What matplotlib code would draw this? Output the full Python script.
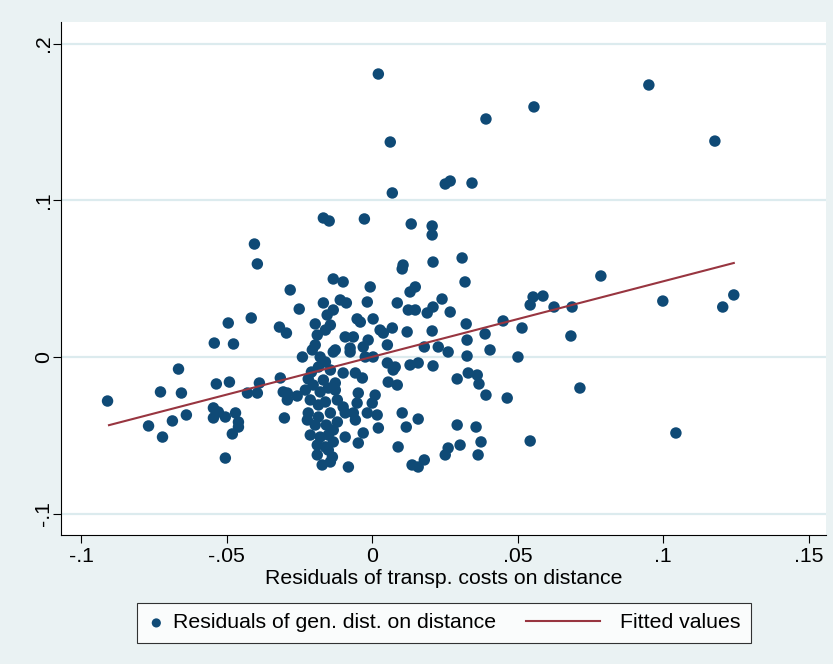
import matplotlib
matplotlib.use("Agg")
import matplotlib.pyplot as plt
from matplotlib.legend_handler import HandlerLine2D
from matplotlib.lines import Line2D
import numpy as np

# Residuals of transp. costs on distance (x) vs residuals of gen. dist. on distance (y)
x_res = [0.0021, 0.0951, 0.0556, 0.0391, 0.1178, 0.0062, 0.0069, 0.0343, 0.0251, 0.0268,
         -0.0168, -0.0148, -0.0027, 0.0134, 0.0206, 0.0206, -0.0405, -0.0395, -0.0282,
         -0.0910, -0.0728, -0.0666, -0.0656, -0.0769, -0.0721, -0.0687, -0.0639, -0.0543,
         -0.0495, -0.0477, -0.0416, -0.0536, -0.0491, -0.0546, -0.0529, -0.0546, -0.0505,
         -0.0470, -0.0460, -0.0460, -0.0481, -0.0505, -0.0429, -0.0395, -0.0388,
         -0.0319, -0.0295, -0.0251, -0.0196, -0.0155, -0.0168, -0.0134, -0.0240, -0.0316,
         -0.0306, -0.0292, -0.0258, -0.0292, -0.0302, -0.0220, -0.0213, -0.0189, -0.0144,
         -0.0151, -0.0220, -0.0185,
         -0.0100, -0.0007, -0.0110, -0.0089, -0.0017, 0.0086, -0.0134, -0.0052, -0.0041,
         0.0003, 0.0027, 0.0038, 0.0069, -0.0093, -0.0065, -0.0014, -0.0031, 0.0052,
         -0.0127, -0.0076,
         0.0309, 0.0209, 0.0106, 0.0103, 0.0319, 0.0148, 0.0130, 0.0240, 0.0124, 0.0148,
         0.0209, 0.0189, 0.0268, 0.0323, 0.0120, 0.0206, 0.0326, 0.0179, 0.0227, 0.0261,
         0.0079, 0.0130, 0.0158, 0.0209, 0.0326, 0.0292, 0.0330, 0.0086, 0.0103, 0.0158,
         0.0117, 0.0292, 0.0089, 0.0302, 0.0261, 0.0251, 0.0137, 0.0158, 0.0179,
         0.0450, 0.0388, 0.0515, 0.0543, 0.0553, 0.0587, 0.0625, 0.0361, 0.0367, 0.0391,
         0.0464, 0.0357, 0.0374, 0.0364, 0.0543, 0.0405, 0.0501,
         0.0786, 0.0687, 0.0683, 0.0999, 0.1205, 0.1243, 0.0714, 0.1044,
         -0.0134, -0.0076, -0.0024, 0.0003, 0.0052, 0.0072, 0.0055, -0.0100, -0.0058,
         -0.0034, -0.0127, -0.0127, -0.0120, -0.0048, -0.0052, 0.0010, 0.0000, -0.0100,
         -0.0093, -0.0065, -0.0058, -0.0017, 0.0017, -0.0120, -0.0134, 0.0021, -0.0031,
         -0.0048, -0.0093, -0.0134, -0.0137, -0.0082,
         -0.0189, -0.0161, -0.0144, -0.0196, -0.0206, -0.0179, -0.0161, -0.0185, -0.0209,
         -0.0144, -0.0168, -0.0203, -0.0230, -0.0179, -0.0151, -0.0213, -0.0185, -0.0161,
         -0.0144, -0.0223, -0.0196, -0.0158, -0.0179, -0.0151, -0.0189, -0.0161, -0.0172]

y_res = [0.1806, 0.1736, 0.1596, 0.1519, 0.1378, 0.1372, 0.1047, 0.1110, 0.1104, 0.1123,
         0.0887, 0.0868, 0.0881, 0.0849, 0.0836, 0.0779, 0.0721, 0.0594, 0.0428,
         -0.0281, -0.0223, -0.0077, -0.0230, -0.0440, -0.0511, -0.0408, -0.0370, 0.0089,
         0.0217, 0.0083, 0.0249, -0.0172, -0.0160, -0.0325, -0.0351, -0.0389, -0.0383,
         -0.0357, -0.0415, -0.0447, -0.0491, -0.0645, -0.0230, -0.0230, -0.0166,
         0.0191, 0.0153, 0.0306, 0.0211, 0.0268, 0.0345, 0.0498, 0.0000, -0.0134,
         -0.0223, -0.0230, -0.0249, -0.0274, -0.0389, -0.0140, -0.0498, -0.0625, -0.0670,
         -0.0594, -0.0357, -0.0383,
         0.0479, 0.0447, 0.0364, 0.0345, 0.0351, 0.0345, 0.0300, 0.0243, 0.0223,
         0.0243, 0.0172, 0.0153, 0.0185, 0.0128, 0.0128, 0.0108, 0.0064, 0.0077,
         0.0045, 0.0057,
         0.0632, 0.0606, 0.0587, 0.0562, 0.0479, 0.0447, 0.0415, 0.0370, 0.0300, 0.0300,
         0.0319, 0.0281, 0.0287, 0.0211, 0.0160, 0.0166, 0.0108, 0.0064, 0.0064, 0.0032,
         -0.0064, -0.0051, -0.0038, -0.0057, 0.0006, -0.0140, -0.0102, -0.0179, -0.0357,
         -0.0396, -0.0447, -0.0434, -0.0574, -0.0562, -0.0581, -0.0625, -0.0689, -0.0702,
         -0.0657,
         0.0230, 0.0147, 0.0185, 0.0332, 0.0383, 0.0389, 0.0319, -0.0115, -0.0172, -0.0243,
         -0.0262, -0.0447, -0.0542, -0.0625, -0.0536, 0.0045, 0.0000,
         0.0517, 0.0319, 0.0134, 0.0357, 0.0319, 0.0396, -0.0198, -0.0485,
         0.0032, 0.0032, 0.0000, 0.0000, -0.0038, -0.0083, -0.0160, -0.0102, -0.0102,
         -0.0134, -0.0166, -0.0211, -0.0274, -0.0230, -0.0294, -0.0243, -0.0294, -0.0319,
         -0.0357, -0.0357, -0.0402, -0.0357, -0.0370, -0.0415, -0.0466, -0.0453, -0.0485,
         -0.0549, -0.0511, -0.0542, -0.0638, -0.0702,
         0.0140, 0.0172, 0.0204, 0.0077, 0.0045, 0.0000, -0.0032, -0.0064, -0.0096,
         -0.0083, -0.0147, -0.0179, -0.0211, -0.0223, -0.0198, -0.0274, -0.0306, -0.0287,
         -0.0357, -0.0402, -0.0434, -0.0434, -0.0511, -0.0498, -0.0562, -0.0574, -0.0689]

# Fitted values line (endpoints)
fit_x = [-0.0905, 0.1243]
fit_y = [-0.0435, 0.0600]

x_ticks = [-0.1, -0.05, 0, 0.05, 0.1, 0.15]
x_ticklabels = ["-.1", "-.05", "0", ".05", ".1", ".15"]
y_ticks = [-0.1, 0, 0.1, 0.2]
y_ticklabels = ["-.1", "0", ".1", ".2"]

navy = "#0f4a76"
maroon = "#983540"
bg = "#eaf2f3"
grid = "#dcebee"
FS = 15.3

plt.rcParams['font.family'] = ['Liberation Sans', 'DejaVu Sans']

fig = plt.figure(figsize=(8.33, 6.64), dpi=100, facecolor=bg)
ax = fig.add_axes([61/833, 1-535/664, (826-61)/833, (535-22)/664])
ax.set_facecolor("white")

ax.set_xlim(-0.107, 0.156)
ax.set_ylim(-0.1136, 0.2138)

for yt in y_ticks:
    ax.axhline(yt, color=grid, lw=1.6, zorder=0)

sc = ax.scatter(x_res, y_res, s=68, color=navy, edgecolors='none', zorder=3,
                label="Residuals of gen. dist. on distance")
ln, = ax.plot(fit_x, fit_y, color=maroon, lw=1.5, zorder=4, label="Fitted values")

ax.set_xticks(x_ticks)
ax.set_xticklabels(x_ticklabels)
ax.set_yticks(y_ticks)
ax.set_yticklabels(y_ticklabels, rotation=90, va='center')

for s in ['top', 'right']:
    ax.spines[s].set_visible(False)
for s in ['left', 'bottom']:
    ax.spines[s].set_color('black')
    ax.spines[s].set_linewidth(0.8)

ax.tick_params(axis='both', direction='out', length=6, width=0.8, colors='black',
               labelsize=FS)
ax.tick_params(axis='x', pad=3)
ax.tick_params(axis='y', pad=0)
ax.set_xlabel("Residuals of transp. costs on distance", fontsize=FS, labelpad=2)


class LongLineHandler(HandlerLine2D):
    """Legend line that extends to the left of the (short) handle box."""
    def create_artists(self, legend, orig_handle, xdescent, ydescent, width, height,
                       fontsize, trans):
        y = height / 2.0 - ydescent
        x1 = width - xdescent - 8
        x0 = x1 - 53
        line = Line2D([x0, x1], [y, y])
        self.update_prop(line, orig_handle, legend)
        line.set_transform(trans)
        return [line]


leg = fig.legend(handles=[sc, ln], loc='center', bbox_to_anchor=(444/833, 1-623/664),
                 ncol=2, frameon=True, fancybox=False, edgecolor='black',
                 fontsize=FS, handlelength=0.8, columnspacing=4.6, borderpad=0.5,
                 markerscale=0.8, handletextpad=0.4,
                 handler_map={Line2D: LongLineHandler()})
leg.get_frame().set_linewidth(0.8)

fig.savefig("out.png", dpi=100, facecolor=bg)
